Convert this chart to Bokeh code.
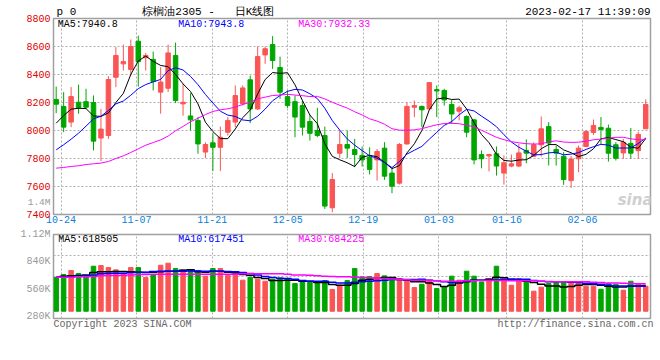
from bokeh.plotting import figure
from bokeh.layouts import column
from bokeh.models import Range1d, FixedTicker, Label, ColumnDataSource, Title
from bokeh.embed import file_html
from bokeh.resources import INLINE

# ---------------- data ----------------
dates = ["10-21",
         "10-24", "10-25", "10-26", "10-27", "10-28",
         "10-31", "11-01", "11-02", "11-03", "11-04",
         "11-07", "11-08", "11-09", "11-10", "11-11",
         "11-14", "11-15", "11-16", "11-17", "11-18",
         "11-21", "11-22", "11-23", "11-24", "11-25",
         "11-28", "11-29", "11-30", "12-01", "12-02",
         "12-05", "12-06", "12-07", "12-08", "12-09",
         "12-12", "12-13", "12-14", "12-15", "12-16",
         "12-19", "12-20", "12-21", "12-22", "12-23",
         "12-26", "12-27", "12-28", "12-29", "12-30",
         "01-03", "01-04", "01-05", "01-06",
         "01-09", "01-10", "01-11", "01-12", "01-13",
         "01-16", "01-17", "01-18", "01-19", "01-20",
         "01-30", "01-31", "02-01", "02-02", "02-03",
         "02-06", "02-07", "02-08", "02-09", "02-10",
         "02-13", "02-14", "02-15", "02-16", "02-17"]

opens = [8222, 8172, 8060, 8202, 8206, 8200, 7946, 7964, 8380, 8476,
         8436, 8638, 8520, 8508, 8274, 8302, 8536, 8190, 8104, 8072,
         7846, 7912, 7880, 7988, 8060, 8190, 8362, 8154, 8540, 8614,
         8450, 8242, 8206, 8178, 8064, 8000, 7964, 7448, 7838, 7900,
         7864, 7822, 7810, 7790, 7874, 7696, 7624, 7904, 8166, 8172,
         8154, 8292, 8286, 8186, 8138, 8100, 8076, 7828, 7818, 7834,
         7696, 7746, 7746, 7858, 7816, 7898, 8028, 7864, 7816, 7642,
         7798, 7886, 7986, 8022, 8016, 7898, 7840, 7908, 7856, 8012]
highs = [8314, 8274, 8310, 8328, 8298, 8250, 8154, 8388, 8596, 8614,
         8650, 8678, 8554, 8564, 8452, 8614, 8628, 8334, 8266, 8096,
         7916, 7980, 8028, 8096, 8322, 8322, 8392, 8600, 8600, 8674,
         8528, 8286, 8250, 8214, 8112, 8162, 8028, 7696, 8000, 8000,
         7940, 7886, 7880, 7868, 7916, 7726, 7910, 8202, 8214, 8178,
         8342, 8322, 8298, 8218, 8178, 8108, 8080, 7858, 7834, 7886,
         7822, 7828, 7904, 7936, 7916, 8100, 8060, 7892, 7846, 7818,
         7892, 8004, 8078, 8096, 8042, 7916, 7940, 8018, 7992, 8222]
lows = [8124, 7988, 8024, 8120, 8154, 7858, 7782, 7940, 8310, 8428,
        8392, 8314, 8428, 8286, 8120, 8274, 8196, 8106, 8000, 7834,
        7804, 7710, 7710, 7964, 8024, 8178, 8052, 8148, 8476, 8440,
        8226, 8162, 7952, 7964, 7928, 7952, 7440, 7416, 7804, 7804,
        7738, 7742, 7686, 7642, 7648, 7552, 7614, 7900, 8096, 8024,
        8148, 8096, 8178, 8048, 8072, 7952, 7758, 7730, 7708, 7678,
        7614, 7738, 7738, 7766, 7816, 7814, 7750, 7750, 7612, 7590,
        7702, 7880, 7968, 7904, 7778, 7786, 7798, 7798, 7798, 8012]
closes = [8188, 8024, 8242, 8162, 8166, 7924, 8010, 8364, 8536, 8492,
          8600, 8492, 8536, 8350, 8346, 8554, 8214, 8202, 8076, 7904,
          7900, 7880, 7952, 8072, 8250, 8304, 8154, 8528, 8584, 8500,
          8274, 8178, 8096, 8024, 7980, 7964, 7460, 7650, 7900, 7874,
          7828, 7790, 7722, 7850, 7674, 7602, 7900, 8172, 8178, 8148,
          8342, 8282, 8218, 8118, 8162, 7988, 7790, 7798, 7828, 7746,
          7770, 7762, 7840, 7838, 7898, 8012, 7910, 7838, 7650, 7796,
          7874, 7992, 8036, 8008, 7838, 7802, 7916, 7838, 7972, 8186]

# moving-average values before enough history is on the chart
ma5_head = [8052, 8107, 8152, 8159]
ma10_head = [7862, 7898, 7938, 7981, 8031, 8083, 8102, 8143, 8190]
ma30_head = [7731, 7736, 7743, 7748, 7757, 7762, 7767, 7779, 7800, 7819,
             7843, 7869, 7895, 7914, 7933, 7960, 7998, 8029, 8062, 8088,
             8114, 8136, 8148, 8155, 8167, 8186, 8202, 8226, 8238]

volumes = [679000, 710000, 751000, 720000, 699000, 795000, 802000, 781000, 758000, 723000,
           781000, 781000, 679000, 710000, 805000, 826000, 771000, 758000, 751000, 751000,
           693000, 771000, 771000, 703000, 730000, 652000, 682000, 662000, 641000, 662000,
           675000, 669000, 617000, 641000, 634000, 634000, 648000, 556000, 600000, 648000,
           771000, 686000, 689000, 720000, 696000, 679000, 669000, 652000, 576000, 610000,
           652000, 566000, 583000, 693000, 652000, 744000, 693000, 634000, 669000, 795000,
           665000, 600000, 669000, 652000, 539000, 580000, 617000, 634000, 631000, 631000,
           631000, 590000, 590000, 559000, 617000, 610000, 549000, 641000, 617000, 590000]

vol_ma5 = [682000, 693000, 696000, 699000, 706000, 730000, 737000, 737000, 740000, 740000,
           737000, 734000, 730000, 734000, 737000, 744000, 744000, 754000, 758000, 737000,
           734000, 744000, 744000, 734000, 727000, 710000, 703000, 680000, 668000, 648000,
           648000, 652000, 652000, 641000, 641000, 628000, 628000, 607000, 600000, 600000,
           617000, 652000, 662000, 669000, 679000, 679000, 658000, 652000, 635000, 635000,
           624000, 607000, 587000, 600000, 624000, 635000, 652000, 652000, 662000, 682000,
           676000, 662000, 652000, 641000, 628000, 611000, 593000, 593000, 583000, 587000,
           600000, 607000, 607000, 600000, 590000, 583000, 583000, 590000, 593000, 597000]
vol_ma10 = [682000, 682000, 686000, 693000, 696000, 703000, 717000, 720000, 723000, 723000,
            730000, 734000, 734000, 740000, 744000, 744000, 744000, 744000, 747000, 747000,
            744000, 744000, 744000, 740000, 737000, 730000, 720000, 706000, 690000, 678000,
            672000, 669000, 662000, 648000, 641000, 641000, 641000, 631000, 624000, 624000,
            631000, 635000, 641000, 645000, 652000, 658000, 658000, 658000, 658000, 662000,
            652000, 645000, 635000, 628000, 635000, 645000, 652000, 652000, 652000, 655000,
            658000, 662000, 662000, 662000, 648000, 641000, 635000, 635000, 635000, 631000,
            628000, 621000, 614000, 611000, 600000, 593000, 593000, 593000, 590000, 590000]
vol_ma30 = [682000, 682000, 682000, 686000, 686000, 689000, 696000, 699000, 699000, 703000,
            706000, 710000, 710000, 713000, 713000, 713000, 713000, 713000, 713000, 713000,
            713000, 713000, 713000, 713000, 713000, 717000, 717000, 717000, 717000, 717000,
            717000, 713000, 706000, 706000, 703000, 696000, 693000, 689000, 686000, 686000,
            682000, 679000, 676000, 672000, 669000, 665000, 658000, 655000, 652000, 652000,
            648000, 645000, 641000, 641000, 641000, 645000, 645000, 648000, 648000, 648000,
            648000, 645000, 645000, 645000, 645000, 641000, 638000, 635000, 635000, 635000,
            635000, 635000, 631000, 628000, 624000, 624000, 621000, 617000, 614000, 614000]

date_ticks = ["10-24", "11-07", "11-21", "12-05", "12-19", "01-03", "01-16", "02-06"]
price_ticks = [7400, 7600, 7800, 8000, 8200, 8400, 8600, 8800]
vol_ticks = [280000, 560000, 840000, 1120000]
vol_tick_labels = ["280K", "560K", "840K", "1.12M"]

title_name = "棕榈油2305"
title_kind = "日K线图"
stamp = "2023-02-17 11:39:09"
copyright_text = "Copyright 2023 SINA.COM"
url_text = "http://finance.sina.com.cn"
ma_price_texts = ["MA5:7940.8", "MA10:7943.8", "MA30:7932.33"]
ma_vol_texts = ["MA5:618505", "MA10:617451", "MA30:684225"]

# ---------------- styles ----------------
RED = "#fa5555"
GREEN = "#00a600"
MA_COLORS = ["#000000", "#0000ff", "#ff00ff"]
FRAME = "#a0a0a0"
GRID = "#b0b0b0"
MONO = "Liberation Mono"
NB = "\u00a0"


def moving_average(vals, n, head):
    out = list(head)
    for i in range(len(head), len(vals)):
        out.append(sum(vals[i - n + 1:i + 1]) / n)
    return out


ma5 = moving_average(closes, 5, ma5_head)
ma10 = moving_average(closes, 10, ma10_head)
ma30 = moving_average(closes, 30, ma30_head)

N = len(dates)
xs = list(range(N))
X_START = -0.36
x_range = Range1d(X_START, X_START + N)
# Sina spaces its date grid over N-1 slots across the same width
tick_pos = [X_START + dates.index(d) * N / (N - 1) for d in date_ticks]

colors = [RED if c >= o else GREEN for o, c in zip(opens, closes)]
src = ColumnDataSource(dict(
    x=xs, high=highs, low=lows,
    top=[max(o, c) for o, c in zip(opens, closes)],
    bottom=[min(o, c) for o, c in zip(opens, closes)],
    vol=volumes, color=colors))


def style_axis(ax, color, standoff):
    ax.axis_line_color = None
    ax.major_tick_line_color = None
    ax.minor_tick_line_color = None
    ax.major_tick_out = 0
    ax.major_tick_in = 0
    ax.major_label_standoff = standoff
    ax.major_label_text_color = color
    ax.major_label_text_font = MONO
    ax.major_label_text_font_size = "10px"


def style_grid(g):
    g.grid_line_color = GRID
    g.grid_line_dash = "2 2"
    g.grid_line_width = 1


def put(fig, text, dx, dy, color="#000000", size="10px", font=MONO,
        align="left", baseline="middle", style="normal", place="center"):
    """Text placed dx, dy pixels from the frame's top-left corner."""
    lab = Label(x=fig.x_range.start, y=fig.y_range.end,
                x_offset=dx, y_offset=-dy, text=text,
                text_color=color, text_font=font, text_font_size=size,
                text_align=align, text_baseline=baseline,
                text_font_style=style)
    fig.add_layout(lab, place)


# ---------------- price panel ----------------
p = figure(width=660, height=227, x_range=x_range, y_range=Range1d(7400, 8800),
           output_backend="svg", toolbar_location=None, tools="",
           min_border_left=50, min_border_right=10, min_border_top=18,
           min_border_bottom=13, background_fill_color="white",
           border_fill_color="white")
p.outline_line_color = FRAME
p.outline_line_width = 1.5

p.yaxis.ticker = FixedTicker(ticks=price_ticks)
style_axis(p.yaxis[0], "#e00000", 3)
p.xaxis.ticker = FixedTicker(ticks=tick_pos)
p.xaxis.major_label_overrides = {t: d for t, d in zip(tick_pos, date_ticks)}
style_axis(p.xaxis[0], "#0a7fd8", 1)
style_grid(p.xgrid[0])
style_grid(p.ygrid[0])

p.segment(x0="x", y0="low", x1="x", y1="high", line_color="color",
          line_width=1, source=src)
p.vbar(x="x", width=0.6, top="top", bottom="bottom", fill_color="color",
       line_color="color", line_width=1, source=src)
for series, col in zip([ma5, ma10, ma30], MA_COLORS):
    p.line(xs, series, line_color=col, line_width=1)

# header line: one title, pieces spaced with no-break spaces (monospace cells)
header = ("p 0" + NB * 10 + title_name + NB + "-" + NB * 3 + title_kind
          + NB * 38 + stamp)
p.add_layout(Title(text=header, align="left", offset=3, standoff=2,
                   text_font=MONO, text_font_size="11px", text_color="#000000",
                   text_font_style="normal"), "above")

for txt, col, dx in zip(ma_price_texts, MA_COLORS, [4.3, 124.7, 244.7]):
    put(p, txt, dx, 6, color=col)
put(p, "1.4M", -3, 183.5, color="#999999", size="9.5px", align="right", place="left")
put(p, "sina", 599, 190, color="#cfcfcf", size="15px", font="DejaVu Sans",
    align="right", baseline="bottom", style="bold italic")

# ---------------- volume panel ----------------
VOL_LO, VOL_HI = 258500, 1120500
VOL_BAR_BASE = 333000
v = figure(width=660, height=113, x_range=x_range, y_range=Range1d(VOL_LO, VOL_HI),
           output_backend="svg", toolbar_location=None, tools="",
           min_border_left=50, min_border_right=10, min_border_top=7,
           min_border_bottom=22, background_fill_color="white",
           border_fill_color="white")
v.outline_line_color = FRAME
v.outline_line_width = 1.5
v.yaxis.ticker = FixedTicker(ticks=vol_ticks)
v.yaxis.major_label_overrides = {t: s for t, s in zip(vol_ticks, vol_tick_labels)}
style_axis(v.yaxis[0], "#999999", 3)
v.xaxis.visible = False
v.xgrid.ticker = FixedTicker(ticks=tick_pos)
v.ygrid.ticker = FixedTicker(ticks=[VOL_LO + k * (VOL_HI - VOL_LO) / 4 for k in (1, 2, 3)])
style_grid(v.xgrid[0])
style_grid(v.ygrid[0])

v.vbar(x="x", width=0.6, top="vol", bottom=VOL_BAR_BASE, fill_color="color",
       line_color="color", line_width=1, source=src)
for series, col in zip([vol_ma5, vol_ma10, vol_ma30], MA_COLORS):
    v.step(xs, series, mode="center", line_color=col, line_width=1.5)

for txt, col, dx in zip(ma_vol_texts, MA_COLORS, [4.7, 124.7, 244.7]):
    put(v, txt, dx, 4.7, color=col)

footer = copyright_text + NB * 51 + url_text
v.add_layout(Title(text=footer, align="left", offset=0, standoff=1,
                   text_font=MONO, text_font_size="10px", text_color="#666666",
                   text_font_style="normal", vertical_align="top"), "below")

layout = column(p, v)
open("out.html", "w").write(file_html(layout, INLINE))
